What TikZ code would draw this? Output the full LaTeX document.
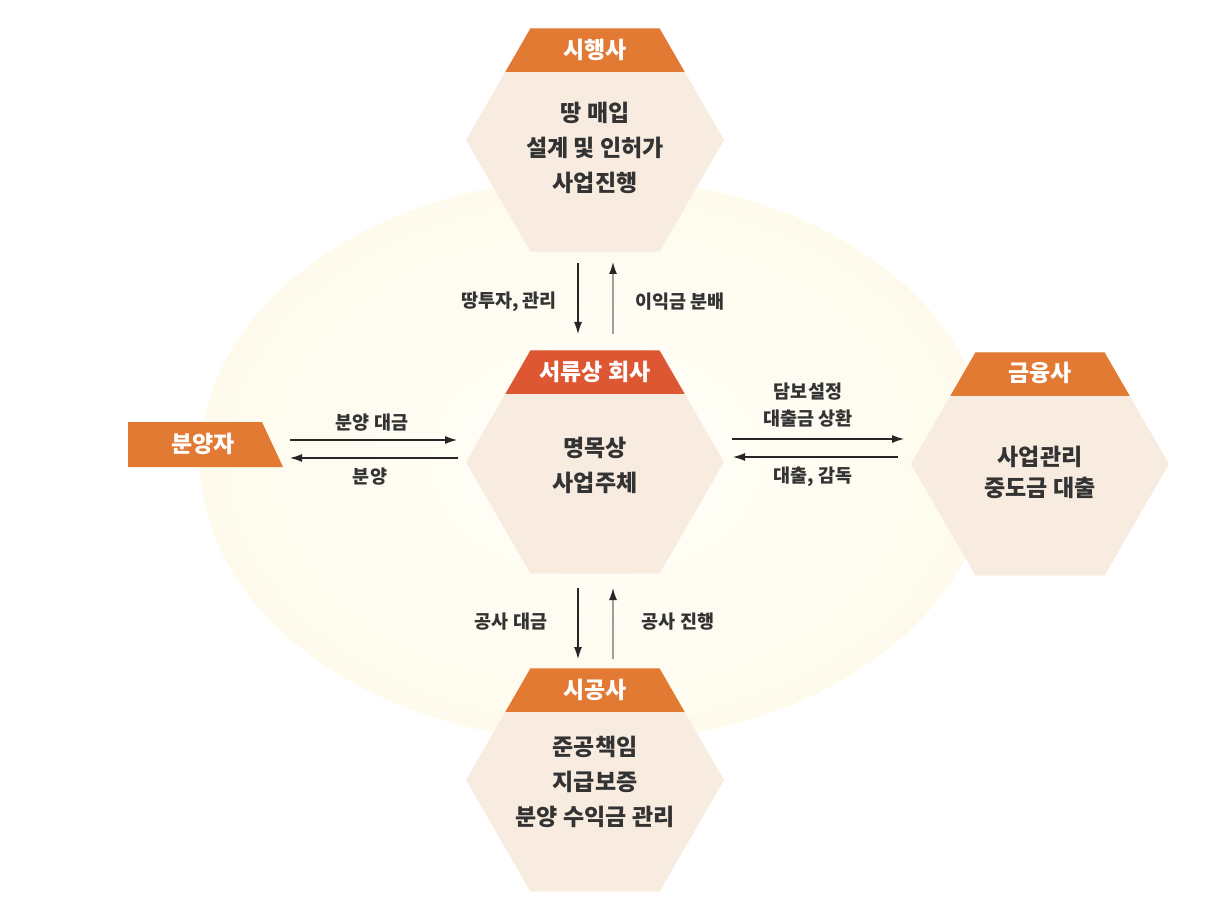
\documentclass[tikz,border=0pt]{standalone}
\usepackage{fontspec}
\setmainfont{Noto Sans CJK KR}
\usetikzlibrary{arrows.meta,shapes.geometric}
\definecolor{hexbody}{HTML}{F8ECE1}
\definecolor{hdr}{HTML}{E27A34}
\definecolor{hdrred}{HTML}{DE5733}
\definecolor{txt}{HTML}{333333}
\definecolor{glowA}{HTML}{FFFEF8}
\definecolor{glowB}{HTML}{FEFBEC}
\definecolor{glowC}{HTML}{FDF6DE}
\pgfdeclareradialshading{glow}{\pgfpoint{0bp}{0bp}}{color(0bp)=(glowA); color(28bp)=(glowB); color(45bp)=(glowC); color(50bp)=(white)}
\begin{document}
\begin{tikzpicture}[x=1pt,y=-1pt,
  hexa/.style={regular polygon, regular polygon sides=6,
    minimum size=258pt, inner sep=0pt, outer sep=0pt, fill=hexbody,
    path picture={\fill[#1] (path picture bounding box.north west) rectangle ([yshift=-44pt]path picture bounding box.north east);}},
  hdrtext/.style={font=\bfseries\fontsize{23}{27}\selectfont, text=white, inner sep=0pt},
  body/.style={font=\bfseries\fontsize{23}{35}\selectfont, text=txt, inner sep=0pt, align=center},
  lbl/.style={font=\bfseries\fontsize{18.5}{26}\selectfont, text=txt, inner sep=0pt, align=center},
  arr/.style={line width=1.1pt, draw=black!85, -{Latex[length=12pt,width=8pt]}},
  arrg/.style={line width=1.4pt, draw=black!38, -{Latex[length=12pt,width=8pt,color=black!85]}}
]
\useasboundingbox (0,0) rectangle (1227,909);
% background glow
\shade[shading=glow] (595,460) ellipse [x radius=395, y radius=282];

% hexagons
\node[hexa=hdr] (sh) at (595,140) {};
\node[hexa=hdrred] (doc) at (595,462) {};
\node[hexa=hdr] (fin) at (1040,464) {};
\node[hexa=hdr] (con) at (595,780) {};

% headers
\node[hdrtext] (shH) at (595,50) {시행사};
\node[hdrtext] (docH) at (595,372) {서류상 회사};
\node[hdrtext] (finH) at (1040,373) {금융사};
\node[hdrtext] (conH) at (595,690) {시공사};

% bodies
\node[body] (shB) at (595,148) {땅 매입\\설계 및 인허가\\사업진행};
\node[body] (docB) at (595,465) {명목상\\사업주체};
\node[body, font=\bfseries\fontsize{23}{31}\selectfont] (finB) at (1040,472) {사업관리\\중도금 대출};
\node[body] (conB) at (595,782) {준공책임\\지급보증\\분양 수익금 관리};

% buyer flag
\fill[hdr] (128,422) -- (262,422) -- (283,467) -- (128,467) -- cycle;
\node[hdrtext] (buyer) at (203,444) {분양자};

% connector end points
\coordinate (t1a) at (578,263); \coordinate (t1b) at (578,334);
\coordinate (t2a) at (613,334); \coordinate (t2b) at (613,262);
\coordinate (b1a) at (578,588); \coordinate (b1b) at (578,659);
\coordinate (b2a) at (613,659); \coordinate (b2b) at (613,588);
\coordinate (l1a) at (290,440); \coordinate (l1b) at (457,440);
\coordinate (l2a) at (458,458); \coordinate (l2b) at (290,458);
\coordinate (r1a) at (732,439); \coordinate (r1b) at (904,439);
\coordinate (r2a) at (898,457); \coordinate (r2b) at (733,457);

\draw[arr] (t1a) -- (t1b);
\draw[arrg] (t2a) -- (t2b);
\draw[arr] (b1a) -- (b1b);
\draw[arrg] (b2a) -- (b2b);
\draw[arr] (l1a) -- (l1b);
\draw[arr] (l2a) -- (l2b);
\draw[arr] (r1a) -- (r1b);
\draw[arr] (r2a) -- (r2b);

% labels
\node[lbl] (lt1) at (509,302) {땅투자, 관리};
\node[lbl] (lt2) at (680,302) {이익금 분배};
\node[lbl] (lb1) at (511,622) {공사 대금};
\node[lbl] (lb2) at (678,622) {공사 진행};
\node[lbl] (ll1) at (372,423) {분양 대금};
\node[lbl] (ll2) at (370,477) {분양};
\node[lbl, font=\bfseries\fontsize{18.5}{27}\selectfont] (lr1) at (808,405) {담보설정\\대출금 상환};
\node[lbl] (lr2) at (813,477) {대출, 감독};
\end{tikzpicture}
\end{document}
